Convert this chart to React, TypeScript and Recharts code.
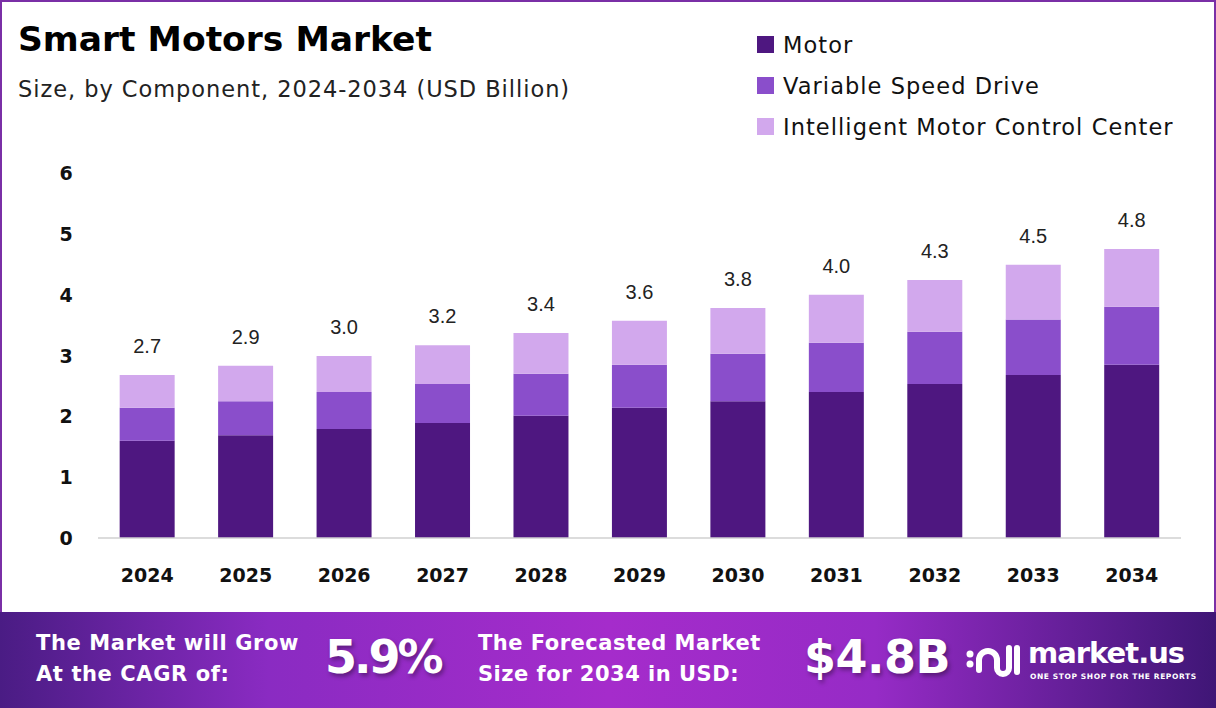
import React from 'react'
import { BarChart, Bar, XAxis, YAxis, LabelList } from 'recharts'

const years = ['2024', '2025', '2026', '2027', '2028', '2029', '2030', '2031', '2032', '2033', '2034']
const motor = [1.6, 1.69, 1.79, 1.89, 2.01, 2.14, 2.25, 2.4, 2.53, 2.68, 2.85]
const vsd = [0.54, 0.56, 0.61, 0.64, 0.69, 0.71, 0.78, 0.81, 0.86, 0.91, 0.95]
const imcc = [0.54, 0.58, 0.59, 0.64, 0.67, 0.72, 0.75, 0.79, 0.85, 0.9, 0.95]
const totals = ['2.7', '2.9', '3.0', '3.2', '3.4', '3.6', '3.8', '4.0', '4.3', '4.5', '4.8']
const yTicks = [0, 1, 2, 3, 4, 5, 6]

const series = [
  { key: 'motor', name: 'Motor', color: '#4e1780' },
  { key: 'vsd', name: 'Variable Speed Drive', color: '#8a4ecb' },
  { key: 'imcc', name: 'Intelligent Motor Control Center', color: '#d2a8ed' },
]

const data = years.map((y, i) => ({ year: y, motor: motor[i], vsd: vsd[i], imcc: imcc[i], total: totals[i] }))

const FONT = "'DejaVu Sans', 'Open Sans', sans-serif"

function YTick(props: any) {
  const { y, payload } = props
  return (
    <text x={66} y={y} dy={7} textAnchor="middle" fontFamily={FONT} fontWeight={700} fontSize={19} fill="#111">
      {payload.value}
    </text>
  )
}

function XTick(props: any) {
  const { x, y, payload } = props
  return (
    <text x={x} y={y} dy={36} textAnchor="middle" fontFamily={FONT} fontWeight={700} fontSize={19} fill="#111">
      {payload.value}
    </text>
  )
}

export default function App() {
  return (
    <div style={{ position: 'absolute', left: 0, top: 0, width: 1216, height: 708, background: '#fff', overflow: 'hidden', fontFamily: FONT }}>
      <div style={{ position: 'absolute', left: 0, top: 0, width: 1212, height: 610, border: '2px solid #7a2fa6', borderBottom: 'none' }} />
      <div style={{ position: 'absolute', left: 18, top: 19, fontSize: 34.5, fontWeight: 700, color: '#000', letterSpacing: 0 }}>
        Smart Motors Market
      </div>
      <div style={{ position: 'absolute', left: 18, top: 76, fontSize: 22.5, color: '#222', letterSpacing: 0.95 }}>
        Size, by Component, 2024-2034 (USD Billion)
      </div>
      <div style={{ position: 'absolute', left: 757, top: 24 }}>
        {series.map((s) => (
          <div key={s.key} style={{ display: 'flex', alignItems: 'center', height: 41 }}>
            <div style={{ width: 17, height: 17, background: s.color, marginRight: 9 }} />
            <span style={{ fontSize: 22.5, color: '#111', letterSpacing: 1.05 }}>{s.name}</span>
          </div>
        ))}
      </div>
      <div style={{ position: 'absolute', left: 0, top: 0 }}>
        <BarChart width={1216} height={610} data={data} margin={{ top: 173, right: 35, bottom: 42, left: 0 }} barCategoryGap="22%">
          <XAxis dataKey="year" axisLine={{ stroke: '#d0d0d0', strokeWidth: 1.5 }} tickLine={false} tick={<XTick />} interval={0} />
          <YAxis width={98} domain={[0, 6]} ticks={yTicks} axisLine={false} tickLine={false} tick={<YTick />} />
          {series.map((s, idx) => (
            <Bar key={s.key} dataKey={s.key} stackId="a" fill={s.color} isAnimationActive={false}>
              {idx === series.length - 1 && (
                <LabelList dataKey="total" position="top" offset={22} fontFamily="'Liberation Sans', Arial, sans-serif" fontSize={20} fill="#222" />
              )}
            </Bar>
          ))}
        </BarChart>
      </div>
      <div
        style={{
          position: 'absolute', left: 0, top: 612, width: 1216, height: 96,
          background: 'linear-gradient(90deg, #4a1c84 0%, #8a2bc2 22%, #a52ccb 50%, #962bc6 72%, #3f1676 100%)',
          color: '#fff',
        }}
      >
        <div style={{ position: 'absolute', left: 36, top: 16, fontSize: 21, fontWeight: 700, lineHeight: '31px', letterSpacing: 0.6 }}>
          The Market will Grow<br />At the CAGR of:
        </div>
        <div style={{ position: 'absolute', left: 325, top: 14, fontSize: 46, fontWeight: 700, lineHeight: '62px', letterSpacing: -3, textShadow: '2px 3px 4px rgba(0,0,0,0.35)' }}>
          5.9%
        </div>
        <div style={{ position: 'absolute', left: 478, top: 16, fontSize: 21, fontWeight: 700, lineHeight: '31px', letterSpacing: 0.5 }}>
          The Forecasted Market<br />Size for 2034 in USD:
        </div>
        <div style={{ position: 'absolute', left: 804, top: 14, fontSize: 46, fontWeight: 700, lineHeight: '62px', letterSpacing: -0.5, textShadow: '2px 3px 4px rgba(0,0,0,0.35)' }}>
          $4.8B
        </div>
        <svg style={{ position: 'absolute', left: 964, top: 28 }} width={58} height={48}>
          <circle cx={6} cy={24} r={3.5} fill="#fff" />
          <circle cx={6} cy={14} r={3.5} fill="#fff" />
          <path d="M15 30 V20 a9 9 0 0 1 18 0 V28 a6 6 0 0 0 12 0 V8" stroke="#fff" strokeWidth={6} fill="none" strokeLinecap="round" />
          <path d="M53 8 V32" stroke="#fff" strokeWidth={6} strokeLinecap="round" />
        </svg>
        <div style={{ position: 'absolute', left: 1028, top: 24, fontSize: 29, fontWeight: 700, lineHeight: '34px', letterSpacing: -1 }}>
          market.us
        </div>
        <div style={{ position: 'absolute', left: 1030, top: 60, fontSize: 7.5, fontWeight: 700, letterSpacing: 0.6 }}>
          ONE STOP SHOP FOR THE REPORTS
        </div>
      </div>
    </div>
  )
}
